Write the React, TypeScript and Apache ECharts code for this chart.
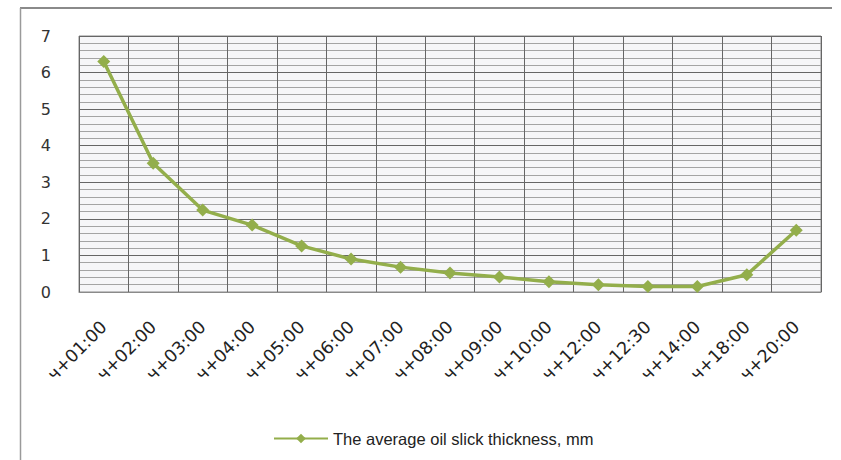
import React, { useEffect, useRef } from "react";
import * as echarts from "echarts";

const categories = [
  "ч+01:00", "ч+02:00", "ч+03:00", "ч+04:00", "ч+05:00", "ч+06:00", "ч+07:00", "ч+08:00",
  "ч+09:00", "ч+10:00", "ч+12:00", "ч+12:30", "ч+14:00", "ч+18:00", "ч+20:00",
];
const thickness = [6.3, 3.52, 2.24, 1.83, 1.26, 0.9, 0.68, 0.52, 0.41, 0.28, 0.2, 0.15, 0.15, 0.47, 1.69];
const seriesName = "The average oil slick thickness, mm";
const yTicks = [0, 1, 2, 3, 4, 5, 6, 7];

export default function App() {
  const ref = useRef<HTMLDivElement>(null);
  useEffect(() => {
    const chart = echarts.init(ref.current!, null, { renderer: "svg" });
    chart.setOption({
      animation: false,
      backgroundColor: "#ffffff",
      textStyle: { fontFamily: "DejaVu Sans, sans-serif" },
      graphic: [
        { type: "line", shape: { x1: 20, y1: 8, x2: 832, y2: 8 }, style: { stroke: "#8a8a8a", lineWidth: 2 } },
        { type: "line", shape: { x1: 20.5, y1: 8, x2: 20.5, y2: 460 }, style: { stroke: "#9a9a9a", lineWidth: 1.5 } },
      ],
      grid: { left: 79, right: 20, top: 36, bottom: 168, backgroundColor: "#f6f6f8", show: true, borderColor: "#8a8a8a", borderWidth: 1 },
      legend: {
        top: 425,
        left: 268,
        itemWidth: 54,
        itemHeight: 12,
        itemGap: 4,
        textStyle: { fontSize: 16.5, color: "#222", fontFamily: "Liberation Sans, Arial, sans-serif" },
        data: [{ name: seriesName }],
      },
      xAxis: {
        type: "category",
        data: categories,
        boundaryGap: true,
        axisLine: { show: true, lineStyle: { color: "#8a8a8a" } },
        axisTick: { show: false },
        splitLine: { show: true, interval: 0, lineStyle: { color: "#666666", width: 1 } },
        axisLabel: { interval: 0, rotate: 45, margin: 32, fontSize: 17.5, color: "#222", fontFamily: "DejaVu Sans, sans-serif" },
      },
      yAxis: {
        type: "value",
        min: 0,
        max: 7,
        interval: 1,
        axisLine: { show: false },
        axisTick: { show: false },
        axisLabel: {
          fontSize: 16,
          color: "#333",
          margin: 28,
          fontFamily: "DejaVu Sans, sans-serif",
          formatter: (v: number) => (yTicks.includes(v) ? String(v) : ""),
        },
        splitLine: { show: true, lineStyle: { color: "#666666", width: 1 } },
        minorTick: { show: false, splitNumber: 5 },
        minorSplitLine: { show: true, lineStyle: { color: "#a4a4a4", width: 1 } },
      },
      series: [
        {
          name: seriesName,
          type: "line",
          data: thickness,
          symbol: "diamond",
          symbolSize: 13,
          itemStyle: { color: "#93ae4b" },
          lineStyle: { color: "#93ae4b", width: 3.5 },
        },
      ],
    });
    return () => chart.dispose();
  }, []);
  return <div ref={ref} style={{ position: "fixed", left: 0, top: 0, width: 841, height: 460 }} />;
}
